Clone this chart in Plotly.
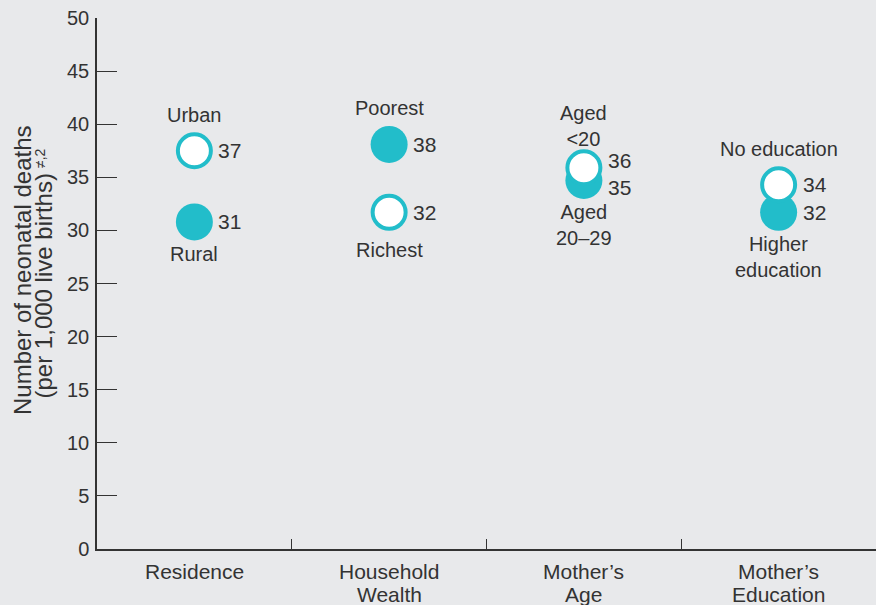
import plotly.graph_objects as go

# ---- data ----
categories = ["Residence", "Household<br>Wealth", "Mother’s<br>Age", "Mother’s<br>Education"]
top_names = ["Urban", "Poorest", "Aged<br><20", "No education"]
top_values = [37.5, 38.1, 35.9, 34.3]
top_labels = ["37", "38", "36", "34"]
top_hollow = [True, False, True, True]
bottom_names = ["Rural", "Richest", "Aged<br>20–29", "Higher<br>education"]
bottom_values = [30.8, 31.7, 34.7, 31.7]
bottom_labels = ["31", "32", "35", "32"]
bottom_hollow = [False, True, False, False]
y_ticks = [0, 5, 10, 15, 20, 25, 30, 35, 40, 45, 50]
y_title_lines = ["Number of neonatal deaths", "(per 1,000 live births)"]
y_title_note = "≠,2"

TEAL = "#22bdca"
TXT = "#333333"
BG = "#e8e9eb"
FONT = "Liberation Sans"

xs = list(range(len(categories)))

fig = go.Figure()

# draw filled markers first, hollow ones on top
allx = xs + xs
allv = top_values + bottom_values
allh = top_hollow + bottom_hollow
for want_hollow in (False, True):
    px = [x for x, h in zip(allx, allh) if h == want_hollow]
    py = [v for v, h in zip(allv, allh) if h == want_hollow]
    fig.add_trace(go.Scatter(
        x=px, y=py, mode="markers", showlegend=False, hoverinfo="skip",
        marker=dict(size=33 if want_hollow else 37,
                    color="white" if want_hollow else TEAL,
                    line=dict(color=TEAL, width=4 if want_hollow else 0)),
    ))

# second x axis only for category boundary ticks
fig.add_trace(go.Scatter(x=[0], y=[0], xaxis="x2", mode="markers",
                         marker=dict(opacity=0, size=1), showlegend=False, hoverinfo="skip"))

ann = []
for i in xs:
    tv, bv = top_values[i], bottom_values[i]
    close = abs(tv - bv) < 2
    ann.append(dict(x=i, y=tv, text=top_names[i], showarrow=False, xanchor="center",
                    yanchor="bottom", yshift=(16 if close else 23),
                    font=dict(size=20, color=TXT, family=FONT)))
    ann.append(dict(x=i, y=bv, text=bottom_names[i], showarrow=False, xanchor="center",
                    yanchor="top", yshift=(-25 if bottom_hollow[i] else -19),
                    font=dict(size=20, color=TXT, family=FONT)))
    ann.append(dict(x=i, y=tv, text=top_labels[i], showarrow=False, xanchor="left",
                    yanchor="middle", xshift=22, yshift=(7 if close else 0),
                    font=dict(size=21, color=TXT, family=FONT)))
    ann.append(dict(x=i, y=bv, text=bottom_labels[i], showarrow=False, xanchor="left",
                    yanchor="middle", xshift=22, yshift=(-7 if close else 0),
                    font=dict(size=21, color=TXT, family=FONT)))
    # category labels below the axis, one annotation per line
    for j, line in enumerate(categories[i].split("<br>")):
        ann.append(dict(x=i, xref="x", y=0, yref="paper", text=line, showarrow=False,
                        xanchor="center", yanchor="middle", yshift=-(22 + 23 * j),
                        font=dict(size=21, color=TXT, family=FONT)))

# rotated y-axis title: two tightly spaced lines plus a small raised note
title_pos = [(-75, 0.5254), (-54, 0.4944)]
for line, (xs_, yp) in zip(y_title_lines, title_pos):
    ann.append(dict(x=0, xref="paper", y=yp, yref="paper", text=line, showarrow=False,
                    textangle=-90, xanchor="center", yanchor="middle", xshift=xs_,
                    font=dict(size=24, color=TXT, family=FONT)))
ann.append(dict(x=0, xref="paper", y=0.7363, yref="paper", text=y_title_note, showarrow=False,
                textangle=-90, xanchor="center", yanchor="middle", xshift=-57,
                font=dict(size=14, color=TXT, family=FONT)))

fig.update_layout(
    width=876, height=605,
    margin=dict(l=97, r=0, t=18, b=56),
    paper_bgcolor=BG, plot_bgcolor=BG,
    font=dict(family=FONT, size=19, color=TXT),
    annotations=ann,
    xaxis=dict(range=[-0.5, 3.5], tickvals=xs, showticklabels=False, ticks="",
               showgrid=False, zeroline=False, showline=True, linecolor=TXT, linewidth=1.5,
               fixedrange=True),
    xaxis2=dict(range=[-0.5, 3.5], overlaying="x", side="bottom", anchor="y",
                tickvals=[0.5, 1.5, 2.5], ticks="inside", ticklen=10, tickwidth=1.2,
                tickcolor=TXT, showticklabels=False, showgrid=False, zeroline=False,
                showline=False),
    yaxis=dict(range=[0, 50], tickvals=y_ticks, ticks="inside", ticklen=20, tickwidth=1.2,
               tickcolor=TXT, showgrid=False, zeroline=False, showline=True,
               linecolor=TXT, linewidth=1.5, ticklabelstandoff=2,
               tickfont=dict(size=20, color=TXT, family=FONT)),
)

fig.write_html("out.html", config={"displayModeBar": False},
               post_script="document.body.style.margin='0';document.body.style.background='%s';" % BG)
